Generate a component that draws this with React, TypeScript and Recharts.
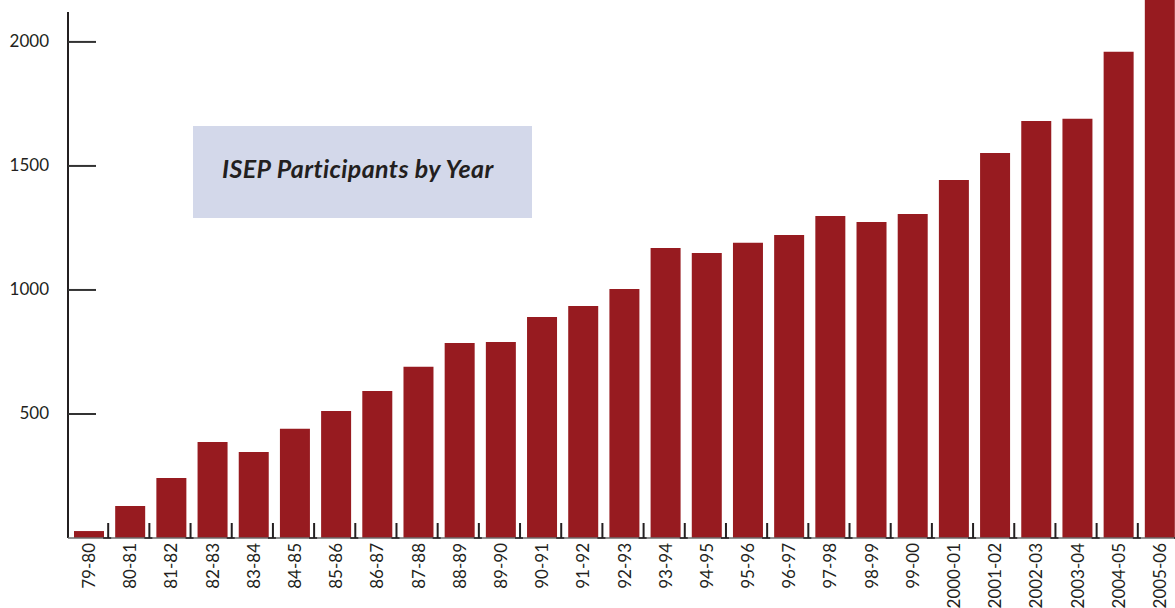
import React from "react";
import { BarChart, Bar, XAxis, YAxis, ReferenceLine } from "recharts";

const years = [
  "79-80", "80-81", "81-82", "82-83", "83-84", "84-85", "85-86", "86-87", "87-88",
  "88-89", "89-90", "90-91", "91-92", "92-93", "93-94", "94-95", "95-96", "96-97",
  "97-98", "98-99", "99-00", "2000-01", "2001-02", "2002-03", "2003-04", "2004-05", "2005-06",
];
const participants = [
  28, 129, 242, 387, 347, 440, 512, 593, 690,
  786, 790, 891, 935, 1004, 1169, 1149, 1190, 1222,
  1298, 1274, 1306, 1443, 1552, 1681, 1690, 1960, 2300,
];
const yTicks = [500, 1000, 1500, 2000];
const Y_MAX = 2169;
const AXIS_TOP = 2121;
const TITLE = "ISEP Participants by Year";

const data = years.map((y, i) => ({ year: y, value: participants[i] }));

const CHART_W = 1180;
const CHART_H = 608;
const Y_W = 68;
const BAND = (CHART_W - Y_W) / years.length;
const FONT = "Lato, 'Open Sans', sans-serif";
const INK = "#231f20";

const YTick = (props: any) => {
  const { x, y, payload } = props;
  return (
    <g>
      <line x1={x} x2={x + 28} y1={y} y2={y} stroke="#333" strokeWidth={2} />
      <text x={x - 19} y={y - 1} textAnchor="end" dominantBaseline="central" fontSize={17} fill={INK} fontFamily={FONT}>
        {payload.value}
      </text>
    </g>
  );
};

const XTick = (props: any) => {
  const { x, y, payload } = props;
  const bx = x + BAND / 2 - 1;
  return (
    <g>
      <line x1={bx} x2={bx} y1={y - 15} y2={y} stroke={INK} strokeWidth={2} />
      <line x1={bx - 5} x2={bx + 3} y1={y} y2={y} stroke={INK} strokeWidth={1.5} />
      <text
        transform={`translate(${x},${y + 5}) rotate(-90)`}
        textAnchor="end"
        dominantBaseline="central"
        fontSize={17}
        fill={INK}
        fontFamily={FONT}
      >
        {payload.value}
      </text>
    </g>
  );
};

export default function App() {
  return (
    <div style={{ position: "absolute", left: 0, top: 0, width: 1175, height: 608, overflow: "hidden", background: "#fff" }}>
      <BarChart width={CHART_W} height={CHART_H} data={data} margin={{ top: 0, right: 0, bottom: 0, left: 0 }}>
        <XAxis
          dataKey="year"
          height={70}
          interval={0}
          tickSize={0}
          tickMargin={0}
          tickLine={false}
          axisLine={{ stroke: "#6d6d6d", strokeWidth: 1.5 }}
          tick={<XTick />}
        />
        <YAxis
          width={Y_W}
          domain={[0, Y_MAX]}
          allowDataOverflow
          ticks={yTicks}
          tickSize={0}
          tickMargin={0}
          tickLine={false}
          axisLine={false}
          tick={<YTick />}
        />
        <Bar dataKey="value" fill="#971b20" barSize={30} isAnimationActive={false} />
        <ReferenceLine
          segment={[
            { x: years[0], y: 0 },
            { x: years[0], y: AXIS_TOP },
          ]}
          position="start"
          ifOverflow="visible"
          stroke={INK}
          strokeWidth={2}
        />
      </BarChart>
      <div
        style={{
          position: "absolute",
          left: 193,
          top: 126,
          width: 339,
          height: 92,
          background: "#d3d8ea",
          display: "flex",
          alignItems: "center",
          paddingLeft: 29,
          paddingBottom: 8,
          boxSizing: "border-box",
          fontFamily: FONT,
          fontWeight: 700,
          fontStyle: "italic",
          fontSize: 25,
          letterSpacing: 0.4,
          color: INK,
          whiteSpace: "nowrap",
        }}
      >
        {TITLE}
      </div>
    </div>
  );
}
